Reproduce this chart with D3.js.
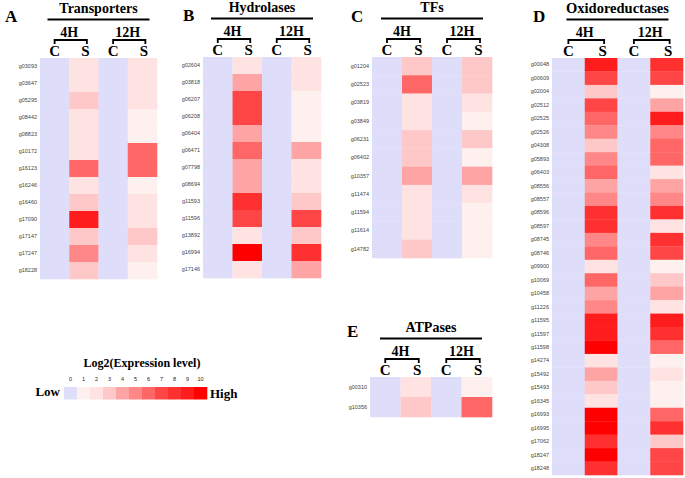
<!DOCTYPE html>
<html><head><meta charset="utf-8">
<script src="https://cdn.jsdelivr.net/npm/d3@7"></script>
<style>body{margin:0;background:#fff}svg{display:block}</style>
</head><body>
<svg id="chart" width="685" height="478"></svg>
<script>
// ---------- data ----------
const legendLevels = [0,1,2,3,4,5,6,7,8,9,10];
const legendColors = ["#dedefb","#fff0f0","#ffe2e2","#ffc8c8","#ffa4a4","#ff8787","#ff6666","#ff4646","#ff3030","#ff1c1c","#ff0000"];
const timePoints = ["4H","12H"];
const treatments = ["C","S"];
const controlLevel = 0;

const transportersGenes = ["g03093","g03647","g05295","g08442","g08823","g10172","g16123","g16246","g16460","g17090","g17147","g17247","g18228"];
const transporters4H = [2,2,3,2,2,2,6,2,3,9,3,5,3];
const transporters12H = [2,2,2,1,1,6,6,1,2,2,3,2,1];

const hydrolasesGenes = ["g02604","g03818","g06207","g06208","g06404","g06471","g07798","g08694","g11593","g11596","g13892","g16994","g17146"];
const hydrolases4H = [2,4,7,7,4,6,4,4,8,7,2,10,2];
const hydrolases12H = [2,2,1,1,1,4,2,2,3,7,3,8,4];

const tfsGenes = ["g01204","g02523","g03819","g03849","g06231","g06402","g10357","g11474","g11594","g11614","g14782"];
const tfs4H = [3,6,2,2,3,3,4,2,2,2,3];
const tfs12H = [3,3,2,1,3,1,4,2,1,1,1];

const oxidoGenes = ["g00048","g00609","g02004","g02512","g02525","g02526","g04308","g05893","g06403","g08556","g08557","g08596","g08597","g08745","g08746","g09900","g10069","g10458","g11226","g11595","g11597","g11598","g14274","g15492","g15493","g16345","g16993","g16995","g17062","g18247","g18248"];
const oxido4H = [9,7,3,7,6,5,3,5,6,4,5,8,8,5,6,2,6,4,5,9,9,10,2,4,3,2,10,10,8,10,8];
const oxido12H = [8,7,1,4,9,5,6,6,2,4,5,8,2,8,7,1,3,4,2,9,8,6,1,2,1,1,6,8,3,7,7];

const atpGenes = ["g00310","g10356"];
const atp4H = [2,3];
const atp12H = [1,6];

// ---------- layout ----------
const panels = [
  {letter:"A", title:"Transporters", genes:transportersGenes, v4:transporters4H, v12:transporters12H, x0:40, x1:157, y0:58, y1:279, lx:5, ly:22},
  {letter:"B", title:"Hydrolases", genes:hydrolasesGenes, v4:hydrolases4H, v12:hydrolases12H, x0:203, x1:321, y0:57, y1:278, lx:183, ly:21},
  {letter:"C", title:"TFs", genes:tfsGenes, v4:tfs4H, v12:tfs12H, x0:372, x1:492, y0:57, y1:258, lx:351, ly:22},
  {letter:"D", title:"Oxidoreductases", genes:oxidoGenes, v4:oxido4H, v12:oxido12H, x0:552, x1:683, y0:58, y1:475, lx:533, ly:22},
  {letter:"E", title:"ATPases", genes:atpGenes, v4:atp4H, v12:atp12H, x0:370, x1:492, y0:377, y1:417, lx:347, ly:337}
];

const color = d3.scaleOrdinal().domain(legendLevels).range(legendColors);
const svg = d3.select("#chart");
const serif = "'Liberation Serif','Times New Roman',serif";
const sans = "'Liberation Sans',Arial,sans-serif";

panels.forEach(p => {
  const cols = [];
  timePoints.forEach(t => treatments.forEach(tr => cols.push(t + "_" + tr)));
  const x = d3.scaleBand().domain(cols).range([p.x0, p.x1]);
  const y = d3.scaleBand().domain(p.genes).range([p.y0, p.y1]);
  const g = svg.append("g");
  const cells = [];
  p.genes.forEach((gene, i) => {
    cells.push({gene, col:"4H_C", v:controlLevel});
    cells.push({gene, col:"4H_S", v:p.v4[i]});
    cells.push({gene, col:"12H_C", v:controlLevel});
    cells.push({gene, col:"12H_S", v:p.v12[i]});
  });
  g.selectAll("rect.cell").data(cells).join("rect")
    .attr("x", d => x(d.col)).attr("y", d => y(d.gene))
    .attr("width", x.bandwidth() + 0.3).attr("height", y.bandwidth() + 0.3)
    .attr("fill", d => color(d.v));
  // row labels
  const ax = d3.axisLeft(y).tickSize(0).tickPadding(3);
  const axg = g.append("g").attr("transform", `translate(${p.x0},0)`).call(ax);
  axg.select(".domain").remove();
  axg.selectAll("text").attr("font-family", sans).attr("font-size", 5.5).attr("fill", "#444");
  // header
  const T = p.y0;
  const cx = (p.x0 + p.x1) / 2;
  g.append("text").attr("x", p.lx).attr("y", p.ly).text(p.letter)
    .attr("font-family", serif).attr("font-weight", "bold").attr("font-size", 17);
  g.append("text").attr("x", cx).attr("y", T - 45).attr("text-anchor", "middle").text(p.title)
    .attr("font-family", serif).attr("font-weight", "bold").attr("font-size", p.letter === "D" ? 14.5 : 14);
  g.append("line").attr("x1", cx - 51).attr("x2", cx + 51).attr("y1", T - 38.5).attr("y2", T - 38.5)
    .attr("stroke", "#000").attr("stroke-width", 2);
  timePoints.forEach(t => {
    const xc = x(t + "_C") + x.bandwidth() / 2, xs = x(t + "_S") + x.bandwidth() / 2;
    const mid = (xc + xs) / 2;
    g.append("text").attr("x", mid).attr("y", T - 21).attr("text-anchor", "middle").text(t)
      .attr("font-family", serif).attr("font-weight", "bold").attr("font-size", 14);
    g.append("path").attr("d", `M${xc},${T - 14}V${T - 18}H${xs + 3}V${T - 14}`)
      .attr("fill", "none").attr("stroke", "#000").attr("stroke-width", 1.8);
    treatments.forEach(tr => {
      g.append("text").attr("x", x(t + "_" + tr) + x.bandwidth() / 2 + (tr === "S" ? 1.5 : 0)).attr("y", T - 2)
        .attr("text-anchor", "middle").text(tr)
        .attr("font-family", serif).attr("font-weight", "bold").attr("font-size", 15);
    });
  });
});

// ---------- legend ----------
const lg = svg.append("g");
const lx = d3.scaleBand().domain(legendLevels).range([64, 207]);
lg.append("text").attr("x", 142).attr("y", 367).attr("text-anchor", "middle").text("Log2(Expression level)")
  .attr("font-family", serif).attr("font-weight", "bold").attr("font-size", 12);
lg.selectAll("rect").data(legendLevels).join("rect")
  .attr("x", d => lx(d)).attr("y", 387).attr("width", lx.bandwidth() + 0.3).attr("height", 12.5)
  .attr("fill", d => color(d));
lg.selectAll("text.num").data(legendLevels).join("text").attr("class", "num")
  .attr("x", d => lx(d) + lx.bandwidth() / 2).attr("y", 381).attr("text-anchor", "middle")
  .text(d => d).attr("font-family", sans).attr("font-size", 5.5).attr("fill", "#222");
lg.append("text").attr("x", 60).attr("y", 396).attr("text-anchor", "end").text("Low")
  .attr("font-family", serif).attr("font-weight", "bold").attr("font-size", 13);
lg.append("text").attr("x", 210).attr("y", 398).text("High")
  .attr("font-family", serif).attr("font-weight", "bold").attr("font-size", 13);
</script>
</body></html>
